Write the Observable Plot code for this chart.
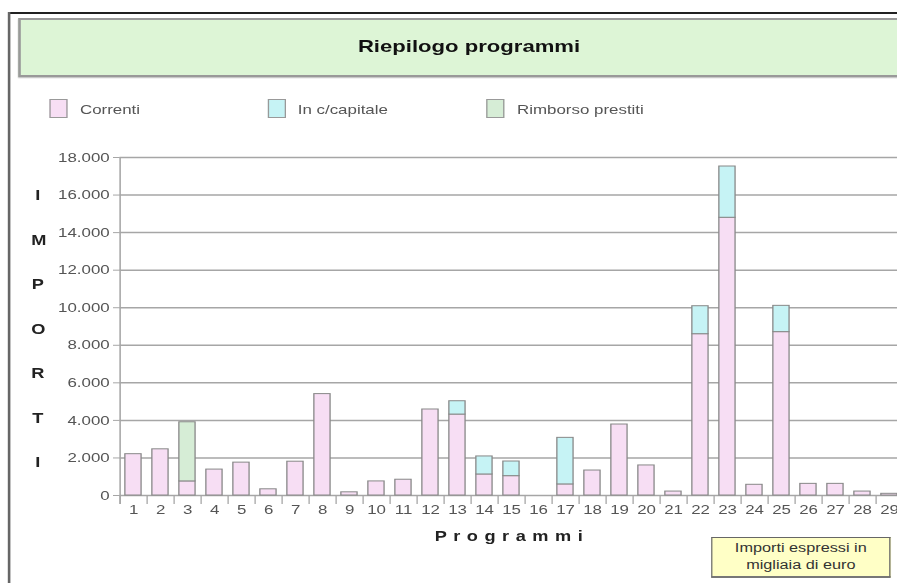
<!DOCTYPE html>
<html><head><meta charset="utf-8">
<script src="https://cdn.jsdelivr.net/npm/d3@7"></script>
<script src="https://cdn.jsdelivr.net/npm/@observablehq/plot@0.6"></script>
<style>
html,body{margin:0;padding:0;width:897px;height:583px;overflow:hidden;background:#fff;}
#page{position:absolute;left:0;top:0;width:690px;height:583px;transform:scaleX(1.3);transform-origin:0 0;font-family:"Liberation Sans",Arial,sans-serif;color:#444;}
.abs{position:absolute;}
#frameTop{left:6px;top:12px;width:720px;height:2px;background:#222;}
#frameLeft{left:6px;top:12px;width:2px;height:580px;background:#666;}
#titleBox{left:14px;top:18px;width:720px;height:55px;background:#ddf5d6;border:2px solid #999;box-shadow:0 1px 1px #bbb;}
#title{left:360.8px;top:37px;transform:translateX(-50%);font-weight:bold;font-size:17px;color:#111;white-space:nowrap;}
.sw{position:absolute;width:14px;height:19px;top:99px;border:1px solid #999;box-sizing:border-box;}
.lt{position:absolute;top:102px;font-size:13px;color:#555;white-space:nowrap;}
.yl{position:absolute;left:24px;width:10px;text-align:center;font-weight:bold;font-size:14px;color:#222;}
#xtitle{left:393.8px;top:528px;transform:translateX(-50%);font-weight:bold;font-size:14px;letter-spacing:5px;color:#222;white-space:nowrap;}
#note{left:547px;top:537px;width:138px;height:41px;background:#ffffc6;border:1px solid #666;border-bottom:2px solid #777;box-sizing:border-box;text-align:center;font-size:12.5px;line-height:17px;color:#333;padding-top:2px;}
#chart{left:0;top:130px;width:710px;height:400px;}
#chart svg{max-width:none !important;}
</style>
</head><body>
<div id="page">
  <div class="abs" id="frameTop"></div>
  <div class="abs" id="frameLeft"></div>
  <div class="abs" id="titleBox"></div>
  <div class="abs" id="title">Riepilogo programmi</div>
  <div id="legend"></div>
  <div id="ytitle"></div>
  <div class="abs" id="chart"></div>
  <div class="abs" id="xtitle">Programmi</div>
  <div class="abs" id="note">Importi espressi in<br>migliaia di euro</div>
</div>
<script>
// ---- data ----
const programmi = ["1","2","3","4","5","6","7","8","9","10","11","12","13","14","15","16","17","18","19","20","21","22","23","24","25","26","27","28","29"];
const serie = ["Correnti", "In c/capitale", "Rimborso prestiti"];
const correnti = [2200,2460,750,1380,1750,330,1800,5400,170,750,840,4580,4310,1120,1030,0,590,1330,3780,1600,210,8590,14790,570,8700,620,620,210,90];
const capitale = [0,0,0,0,0,0,0,0,0,0,0,0,710,960,780,0,2480,0,0,0,0,1490,2730,0,1400,0,0,0,0];
const rimborso = [0,0,3150,0,0,0,0,0,0,0,0,0,0,0,0,0,0,0,0,0,0,0,0,0,0,0,0,0,0];
const yTicks = [0,2000,4000,6000,8000,10000,12000,14000,16000,18000];
const yTitle = ["I","M","P","O","R","T","I"];
const colori = ["#f7def4", "#c6f3f5", "#d6edd6"];

// ---- legend & y title (HTML) ----
const legX = [[37.7, 61.5], [206, 229], [374, 397.7]];
const leg = document.getElementById("legend");
serie.forEach((s, i) => {
  const sw = document.createElement("div");
  sw.className = "sw"; sw.style.left = legX[i][0] + "px"; sw.style.background = colori[i];
  leg.appendChild(sw);
  const t = document.createElement("div");
  t.className = "lt"; t.style.left = legX[i][1] + "px"; t.textContent = s;
  leg.appendChild(t);
});
const yt = document.getElementById("ytitle");
yTitle.forEach((c, i) => {
  const d = document.createElement("div");
  d.className = "yl"; d.style.top = (187 + i * 44.5) + "px"; d.textContent = c;
  yt.appendChild(d);
});

// ---- table ----
const rows = [];
programmi.forEach((p, i) => {
  [correnti[i], capitale[i], rimborso[i]].forEach((v, k) => {
    if (v > 0) rows.push({programma: p, serie: serie[k], valore: v});
  });
});

const fmt = d3.formatLocale({decimal: ",", thousands: ".", grouping: [3], currency: ["", "€"]}).format(",");
const W = 710, H = 400, ML = 91.9, MR = 15.8, MT = 27, MB = 35;
const step = (W - ML - MR) / programmi.length;
const tickData = 9 * 18000 / (H - MT - MB);
const axisCol = "#a6a6a6";

const chart = Plot.plot({
  width: W, height: H,
  marginLeft: ML, marginRight: MR, marginTop: MT, marginBottom: MB,
  style: {fontFamily: "Liberation Sans, Arial, sans-serif", background: "transparent", overflow: "visible", maxWidth: "none"},
  x: {domain: programmi, paddingInner: 0.4, paddingOuter: 0.2, round: false, label: null},
  y: {domain: [0, 18000], label: null},
  color: {domain: serie, range: colori},
  marks: [
    Plot.gridY(yTicks, {stroke: axisCol, strokeOpacity: 1, strokeWidth: 1.5}),
    Plot.axisY(yTicks, {tickSize: 5, tickPadding: 3, tickFormat: fmt, fontSize: 13, stroke: axisCol, fill: "#555", label: null}),
    Plot.axisX({tickSize: 0, tickPadding: 9, fontSize: 13, fill: "#555", label: null}),
    Plot.ruleX(programmi, {x: d => d, y1: 0, y2: -tickData, dx: -step / 2, stroke: axisCol, strokeWidth: 1}),
    Plot.ruleX([programmi[0]], {x: d => d, y1: -tickData, y2: 18000, dx: -step / 2, stroke: axisCol, strokeWidth: 1.2}),
    Plot.barY(rows, {x: "programma", y: "valore", fill: "serie", stroke: "#888", strokeWidth: 1})
  ]
});
document.getElementById("chart").appendChild(chart);
</script>
</body></html>
